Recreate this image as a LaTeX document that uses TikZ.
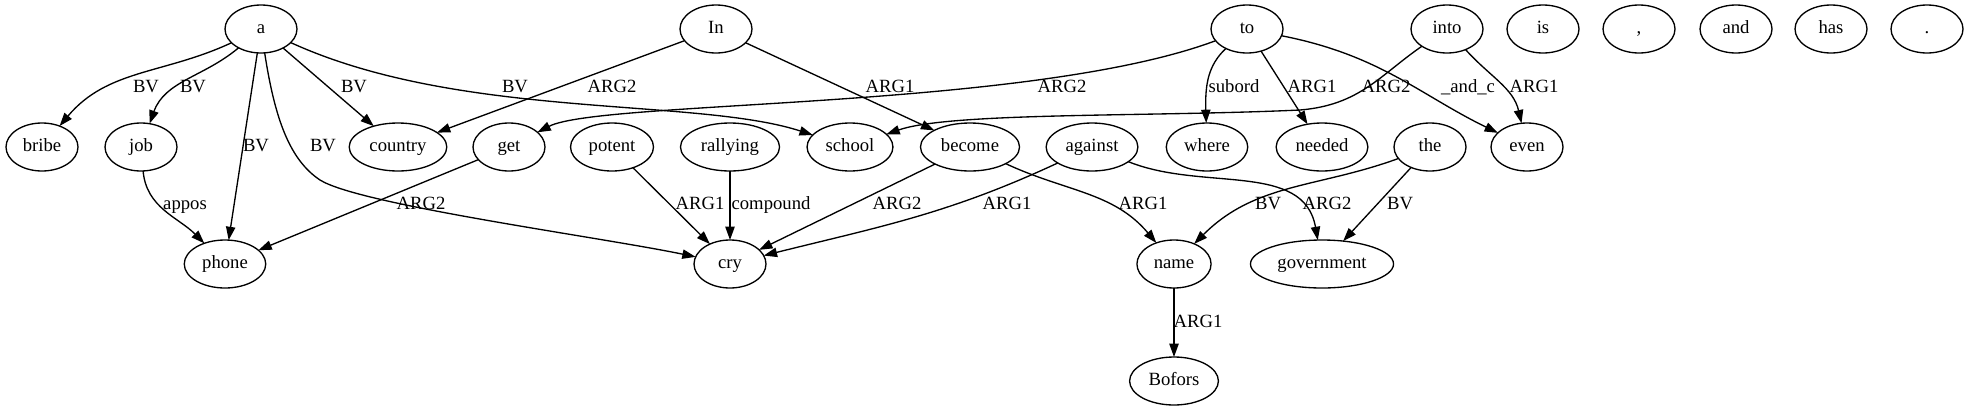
\documentclass[tikz,border=0pt]{standalone}
\usepackage{fontspec}
\setmainfont{Liberation Serif}
\usetikzlibrary{shapes.geometric}
\usetikzlibrary{arrows.meta}
\tikzstyle{word}=[draw, ellipse, line width=1pt, minimum width=54pt, minimum height=36pt, inner xsep=4.5pt, outer sep=0pt, text height=10pt, text depth=3pt, font=\fontsize{14}{16}\selectfont]
\tikzstyle{lab}=[inner sep=0pt, text height=10pt, text depth=3pt, font=\fontsize{14}{16}\selectfont]
\tikzstyle{dep}=[line width=1pt, -{Triangle[length=10pt, width=7pt]}]

\begin{document}
\begin{tikzpicture}[x=0.75pt, y=0.75pt]
		\useasboundingbox (0, 0) rectangle (1969, -411);
		\node(a)[word] at (261, -29) {a};
		\node(In)[word] at (716, -29) {In};
		\node(to)[word] at (1247, -29) {to};
		\node(into)[word] at (1447, -29) {into};
		\node(is)[word] at (1543, -29) {is};
		\node(comma)[word] at (1639, -29) {,};
		\node(and)[word] at (1736, -29) {and};
		\node(has)[word] at (1831, -29) {has};
		\node(dot)[word] at (1927, -29) {.};
		\node(bribe)[word] at (42, -147) {bribe};
		\node(job)[word] at (141, -147) {job};
		\node(country)[word] at (398, -147) {country};
		\node(get)[word] at (509, -147) {get};
		\node(potent)[word] at (612, -147) {potent};
		\node(rallying)[word] at (730, -147) {rallying};
		\node(school)[word] at (850, -147) {school};
		\node(become)[word] at (970, -147) {become};
		\node(against)[word] at (1092, -147) {against};
		\node(where)[word] at (1207, -147) {where};
		\node(needed)[word] at (1322, -147) {needed};
		\node(the)[word] at (1430, -147) {the};
		\node(even)[word] at (1527, -147) {even};
		\node(phone)[word] at (225, -264) {phone};
		\node(cry)[word] at (730, -264) {cry};
		\node(name)[word] at (1174, -264) {name};
		\node(government)[word] at (1322, -264) {government};
		\node(Bofors)[word] at (1174, -381) {Bofors};

		\draw[dep] (a) to[out=205, in=50] (bribe);
		\draw[dep] (a) to[out=220, in=70] (job);
		\draw[dep] (a) -- (phone);
		\draw[dep] (a) .. controls (275, -120) and (290, -160) .. (320, -180) .. controls (360, -205) and (600, -237) .. (cry);
		\draw[dep] (a) -- (country);
		\draw[dep] (a) .. controls (460, -120) and (695, -97) .. (school);
		\draw[dep] (In) -- (country);
		\draw[dep] (In) -- (become);
		\draw[dep] (to) .. controls (1030, -110) and (600, -100) .. (get);
		\draw[dep] (to) .. controls (1208, -65) and (1205, -85) .. (where);
		\draw[dep] (to) -- (needed);
		\draw[dep] (to) .. controls (1380, -55) and (1420, -95) .. (even);
		\draw[dep] (into) .. controls (1380, -75) and (1360, -105) .. (1300, -110) .. controls (1150, -117) and (950, -112) .. (school);
		\draw[dep] (into) to[out=-48, in=103] (even);
		\draw[dep] (job) to[out=-85, in=135] (phone);
		\draw[dep] (get) -- (phone);
		\draw[dep] (potent) -- (cry);
		\draw[dep] (rallying) -- (cry);
		\draw[dep] (become) -- (cry);
		\draw[dep] (against) to[out=205, in=14] (cry);
		\draw[dep] (become) to[out=-25, in=130] (name);
		\draw[dep] (against) to[out=-22, in=100] (government);
		\draw[dep] (the) to[out=200, in=45] (name);
		\draw[dep] (the) -- (government);
		\draw[dep] (name) -- (Bofors);

		\node(abribe)[lab] at (146, -88) {BV};
		\node(ajob)[lab] at (193, -88) {BV};
		\node(aphone)[lab] at (256, -147) {BV};
		\node(acry)[lab] at (323, -147) {BV};
		\node(acountry)[lab] at (354, -88) {BV};
		\node(aschool)[lab] at (515, -88) {BV};
		\node(Incountry)[lab] at (612, -88) {ARG2};
		\node(Inbecome)[lab] at (890, -88) {ARG1};
		\node(toget)[lab] at (1062, -88) {ARG2};
		\node(towhere)[lab] at (1234, -88) {subord};
		\node(toneeded)[lab] at (1312, -88) {ARG1};
		\node(intoschool)[lab] at (1386, -88) {ARG2};
		\node(toeven)[lab] at (1468, -88) {\_and\_c};
		\node(intoeven)[lab] at (1534, -88) {ARG1};
		\node(jobphone)[lab] at (185, -205) {appos};
		\node(getphone)[lab] at (421, -205) {ARG2};
		\node(potentcry)[lab] at (700, -205) {ARG1};
		\node(rallyingcry)[lab] at (771, -205) {compound};
		\node(becomecry)[lab] at (897, -205) {ARG2};
		\node(againstcry)[lab] at (1007, -205) {ARG1};
		\node(becomename)[lab] at (1143, -205) {ARG1};
		\node(thename)[lab] at (1268, -205) {BV};
		\node(againstgov)[lab] at (1327, -205) {ARG2};
		\node(thegov)[lab] at (1400, -205) {BV};
		\node(nameBofors)[lab] at (1198, -323) {ARG1};
\end{tikzpicture}
\end{document}
